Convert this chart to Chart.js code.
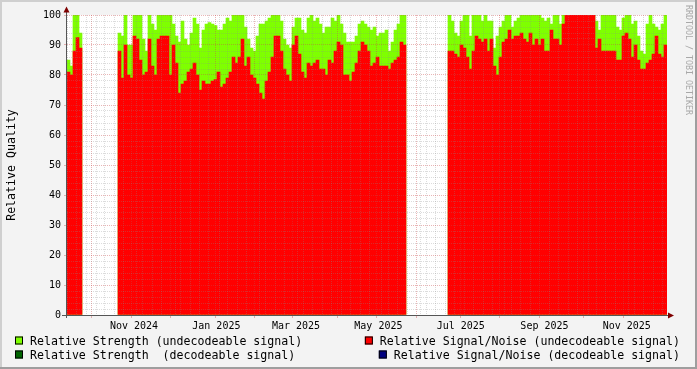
<!DOCTYPE html>
<html>
<head>
<meta charset="utf-8">
<script src="https://cdn.jsdelivr.net/npm/chart.js@4/dist/chart.umd.min.js"></script>
<style>
  html, body { margin: 0; padding: 0; background: #f3f3f3; }
  canvas { display: block; }
</style>
</head>
<body>
<canvas id="quality" width="697" height="369"></canvas>
<script>
// x is "days since 2024-09-01", one sample every STEP days from X0
const X0 = 11.37;
const STEP = 2.222;

// relative strength (green, behind) and signal/noise (red, in front); null = no data
const strength = [
  85, 83, 100, 100, 94,
  null, null, null, null, null, null, null, null, null, null, null, null,
  94, 93, 100, 90, 90, 100, 100, 100, 92, 88,
  100, 97, 95, 100, 100, 100, 100, 100, 97, 93,
  91, 98, 92, 90, 94, 99, 97, 89, 95, 97,
  97.5, 97, 96.5, 95, 95, 97, 99, 98, 100, 100,
  100, 100, 96, 92, 89, 88, 93, 97, 97, 98,
  99, 100, 100, 100, 98, 92, 90, 89, 96, 99,
  99, 95, 94, 99, 100, 98, 99, 97, 94, 96,
  96, 99, 98, 100, 97, 94, 91, 91, 91, 93,
  97, 98, 97, 96, 95, 96, 93, 94, 94, 95,
  88, 91, 95, 97, 100, 100,
  null, null, null, null, null, null, null, null, null, null, null, null, null, null,
  100, 98, 94, 93, 98, 100, 100, 93, 100, 100,
  100, 98, 100, 98, 98, 89, 93, 96, 98, 100,
  100, 96, 98, 99, 100, 100, 100, 100, 100, 100,
  100, 99, 98, 99, 97, 100, 100, 97, 100,
  100, 100, 100, 100, 100, 100, 100, 100, 100, 100,
  98, 95, 100, 100, 100, 100, 100, 96, 95, 99,
  100, 100, 97, 98, 93, 88, 87, 97, 100, 97,
  96, 95, 97, 100
];

const snr = [
  81, 80, 88, 92.5, 89,
  null, null, null, null, null, null, null, null, null, null, null, null,
  88, 79, 90, 80, 79, 93, 92, 85, 80, 81,
  92, 83, 80, 92, 93, 93, 93, 80, 90, 84,
  74, 77, 78, 81, 82, 84, 80, 75, 78, 77,
  77, 78, 78.5, 81, 76, 77, 79, 81, 86, 84,
  86, 92, 83, 86, 80, 79, 77, 74, 72, 78,
  81, 86, 93, 93, 88, 82, 80, 78, 90, 93,
  87, 81, 79, 84, 83, 84, 85, 82, 82, 80,
  85, 84, 88, 91, 90, 80, 80, 78, 81, 84,
  88, 91, 90, 88, 83, 84, 86, 83, 83, 83,
  82, 84, 85, 86, 91, 90,
  null, null, null, null, null, null, null, null, null, null, null, null, null, null,
  88, 88, 87, 86, 90, 89, 86, 82, 88, 93,
  92, 91, 92, 88, 92, 83, 80, 86, 91, 92,
  95, 92, 93, 93, 94, 92, 91, 94, 90, 92,
  90, 92, 88, 88, 95, 92, 92, 90, 97,
  100, 100, 100, 100, 100, 100, 100, 100, 100, 100,
  89, 92, 88, 88, 88, 88, 88, 85, 85, 93,
  94, 92, 86, 90, 85, 82, 82, 84, 85, 87,
  93, 87, 86, 90
];

// month starts (days since 2024-09-01) and the labelled ones
const monthDays = [30, 61, 91, 122, 153, 181, 212, 242, 273, 303, 334, 365, 395, 426];
const labelDays = [61, 122, 181, 242, 303, 365, 426];
const labelText = ['Nov 2024', 'Jan 2025', 'Mar 2025', 'May 2025', 'Jul 2025', 'Sep 2025', 'Nov 2025'];
// Mondays, minor grid
const weekDays = [15, 22, 29, 36, 43, 50, 57, 64, 71, 78, 85, 92, 99, 106, 113, 120, 127, 134,
  141, 148, 155, 162, 169, 176, 183, 190, 197, 204, 211, 218, 225, 232, 239, 246, 253, 260,
  267, 274, 281, 288, 295, 302, 309, 316, 323, 330, 337, 344, 351, 358, 365, 372, 379, 386,
  393, 400, 407, 414, 421, 428, 435, 442, 449];

const yGrid = [0, 2, 4, 6, 8, 10, 12, 14, 16, 18, 20, 22, 24, 26, 28, 30, 32, 34, 36, 38, 40,
  42, 44, 46, 48, 50, 52, 54, 56, 58, 60, 62, 64, 66, 68, 70, 72, 74, 76, 78, 80,
  82, 84, 86, 88, 90, 92, 94, 96, 98, 100];

const legendItems = [
  { text: 'Relative Strength (undecodeable signal)', color: '#7fff00' },
  { text: 'Relative Signal/Noise (undecodeable signal)', color: '#ff0000' },
  { text: 'Relative Strength  (decodeable signal)', color: '#006400' },
  { text: 'Relative Signal/Noise (decodeable signal)', color: '#000080' }
];

const MONO = '"DejaVu Sans Mono", "Liberation Mono", monospace';
const GRID = 'rgba(140,140,140,0.3)';
const MGRID = 'rgba(200,70,70,0.4)';

const toPoints = arr => arr.map((v, i) => ({ x: X0 + (i + 0.5) * STEP, y: v }));
const xTickValues = [...new Set(weekDays.concat(monthDays))].sort((a, b) => a - b);

const rrdLook = {
  id: 'rrdLook',
  beforeDraw(chart) {
    const { ctx, width, height, chartArea: a } = chart;
    ctx.save();
    ctx.fillStyle = '#f3f3f3';
    ctx.fillRect(0, 0, width, height);
    // shaded frame
    ctx.fillStyle = '#cfcfcf';
    ctx.fillRect(0, 0, width, 2);
    ctx.fillRect(0, 0, 2, height);
    ctx.fillStyle = '#9e9e9e';
    ctx.fillRect(0, height - 2, width, 2);
    ctx.fillRect(width - 2, 0, 2, height);
    ctx.fillStyle = '#ffffff';
    ctx.fillRect(a.left, a.top, a.right - a.left, a.bottom - a.top);
    ctx.restore();
  },
  afterDraw(chart) {
    const { ctx, chartArea: a } = chart;
    ctx.save();
    // axes with arrows
    ctx.strokeStyle = '#555555';
    ctx.lineWidth = 1;
    ctx.beginPath();
    ctx.moveTo(a.left - 0.5, a.bottom + 3);
    ctx.lineTo(a.left - 0.5, a.top - 5);
    ctx.moveTo(a.left - 5, a.bottom + 0.5);
    ctx.lineTo(a.right + 3, a.bottom + 0.5);
    ctx.stroke();
    ctx.fillStyle = '#7f0000';
    ctx.beginPath();
    ctx.moveTo(a.left - 3.5, a.top - 2.5);
    ctx.lineTo(a.left + 2.5, a.top - 2.5);
    ctx.lineTo(a.left - 0.5, a.top - 8.5);
    ctx.closePath();
    ctx.fill();
    ctx.beginPath();
    ctx.moveTo(a.right + 1, a.bottom - 2.5);
    ctx.lineTo(a.right + 1, a.bottom + 3.5);
    ctx.lineTo(a.right + 7, a.bottom + 0.5);
    ctx.closePath();
    ctx.fill();

    // legend, rrdtool style: left column flush left, right column flush right
    ctx.font = '11.6px ' + MONO;
    ctx.textBaseline = 'middle';
    const rows = [341, 355];
    legendItems.forEach((it, k) => {
      const y = rows[Math.floor(k / 2)];
      let tx;
      if (k % 2 === 0) {
        tx = 30;
      } else {
        tx = 680 - ctx.measureText(it.text).width;
      }
      ctx.fillStyle = it.color;
      ctx.fillRect(tx - 15, y - 4.5, 8, 8);
      ctx.strokeStyle = '#000';
      ctx.strokeRect(tx - 14.5, y - 4, 7, 7);
      ctx.fillStyle = '#000';
      ctx.fillText(it.text, tx, y + 0.5);
    });

    // watermark
    ctx.translate(688, 5);
    ctx.rotate(Math.PI / 2);
    ctx.font = '8.3px ' + MONO;
    ctx.fillStyle = '#a8a8a8';
    ctx.textBaseline = 'middle';
    ctx.fillText('RRDTOOL / TOBI OETIKER', 0, 0);
    ctx.restore();
  }
};

const isMonth = c => c.tick && monthDays.includes(c.tick.value);

new Chart(document.getElementById('quality'), {
  type: 'bar',
  data: {
    datasets: [
      {
        label: 'Relative Signal/Noise (undecodeable signal)',
        data: toPoints(snr),
        backgroundColor: '#ff0000',
        borderWidth: 0,
        order: 0
      },
      {
        label: 'Relative Strength (undecodeable signal)',
        data: toPoints(strength),
        backgroundColor: '#7fff00',
        borderWidth: 0,
        order: 1
      }
    ]
  },
  options: {
    responsive: false,
    animation: false,
    devicePixelRatio: 1,
    layout: { padding: { left: 0, right: 30, top: 15, bottom: 0 } },
    // 600px plot / 200 samples
    datasets: { bar: { barThickness: 3, grouped: false } },
    plugins: { legend: { display: false }, tooltip: { enabled: false } },
    scales: {
      x: {
        type: 'linear',
        min: X0,
        max: X0 + strength.length * STEP,
        offset: false,
        afterBuildTicks: s => { s.ticks = xTickValues.map(v => ({ value: v })); },
        afterFit: s => { s.height = 54; },
        grid: {
          z: 1,
          color: c => (isMonth(c) ? MGRID : GRID),
          tickColor: c => (isMonth(c) ? MGRID : 'rgba(0,0,0,0)'),
          tickLength: 3
        },
        border: { display: false, dash: [1, 1] },
        ticks: {
          autoSkip: false,
          maxRotation: 0,
          padding: 2,
          color: '#000',
          font: { family: MONO, size: 10 },
          callback: v => {
            const k = labelDays.indexOf(v);
            return k >= 0 ? labelText[k] : '';
          }
        }
      },
      y: {
        min: 0,
        max: 100,
        afterBuildTicks: s => { s.ticks = yGrid.map(v => ({ value: v })); },
        afterFit: s => { s.width = 67; },
        grid: {
          z: 1,
          color: c => (c.tick && c.tick.value % 10 === 0 ? MGRID : GRID),
          tickColor: c => (c.tick && c.tick.value % 10 === 0 ? MGRID : 'rgba(0,0,0,0)'),
          tickLength: 3
        },
        border: { display: false, dash: [1, 1] },
        title: {
          display: true,
          text: 'Relative Quality',
          color: '#000',
          font: { family: MONO, size: 11.6 },
          padding: { top: 5, bottom: 0 }
        },
        ticks: {
          autoSkip: false,
          padding: 3,
          color: '#000',
          font: { family: MONO, size: 10 },
          callback: v => (v % 10 === 0 ? v : '')
        }
      }
    }
  },
  plugins: [rrdLook]
});
</script>
</body>
</html>
